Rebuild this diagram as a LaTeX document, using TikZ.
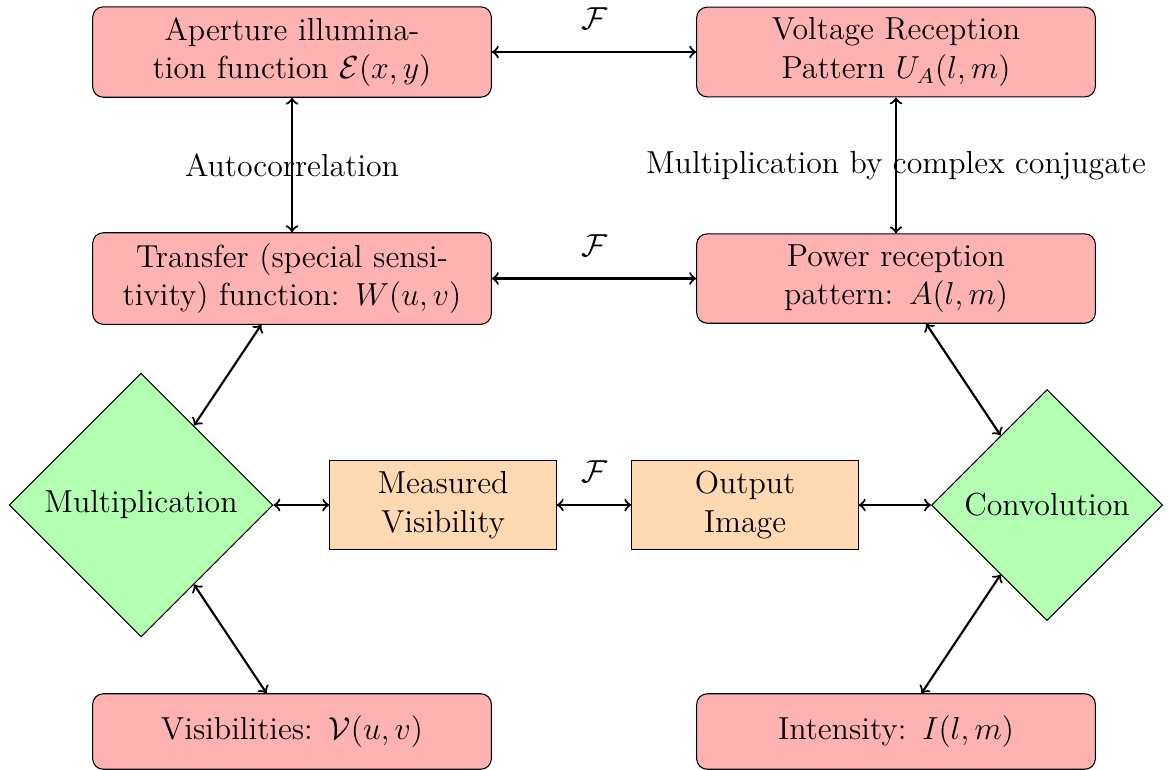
\documentclass[12pt,tikz,border=0pt]{standalone}
\usepackage{amsmath, amssymb}
\usepackage{tikz}
\usetikzlibrary{shapes.geometric}
\tikzset{
  block/.style={draw, rounded corners, fill=red!30, text width=5cm, align=center, minimum height=1cm},
  decision/.style={draw, diamond, aspect=1, fill=green!30},
  midbox/.style={draw, fill=orange!30, minimum width=3cm, align=center},
  link/.style={<->, thick},
  ft/.style={above=4pt}
}

\begin{document}
\begin{tikzpicture}
\useasboundingbox (-3.868,0.689) rectangle (11.629,-9.497);
\path (0,0) node[block] (aper) {Aperture illumina-\\tion function $\mathcal{E}(x,y)$};
\path (8,0) node[block] (volt) {Voltage Reception\\Pattern $U_A(l,m)$};
\path (0,-3) node[block] (trans) {Transfer (special sensi-\\tivity) function: $W(u,v)$};
\path (8,-3) node[block] (power) {Power reception\\pattern: $A(l,m)$};
\path (-2,-6) node[decision] (mult) {Multiplication};
\path (2,-6) node[midbox] (meas) {Measured\\Visibility};
\path (6,-6) node[midbox] (outimg) {Output\\Image};
\path (10,-6) node[decision] (conv) {Convolution};
\path (0,-9) node[block] (vis) {Visibilities: $\mathcal{V}(u,v)$};
\path (8,-9) node[block] (inten) {Intensity: $I(l,m)$};

\draw[link] (aper) -- node[ft] {$\mathcal{F}$} (volt);
\draw[link] (aper) -- node {Autocorrelation} (trans);
\draw[link] (volt) -- node {Multiplication by complex conjugate} (power);
\draw[link] (trans) -- node[ft] {$\mathcal{F}$} (power);
\draw[link] (trans) -- (mult);
\draw[link] (power) -- (conv);
\draw[link] (mult) -- (meas);
\draw[link] (meas) -- node[ft] {$\mathcal{F}$} (outimg);
\draw[link] (outimg) -- (conv);
\draw[link] (mult) -- (vis);
\draw[link] (conv) -- (inten);
\end{tikzpicture}
\end{document}
